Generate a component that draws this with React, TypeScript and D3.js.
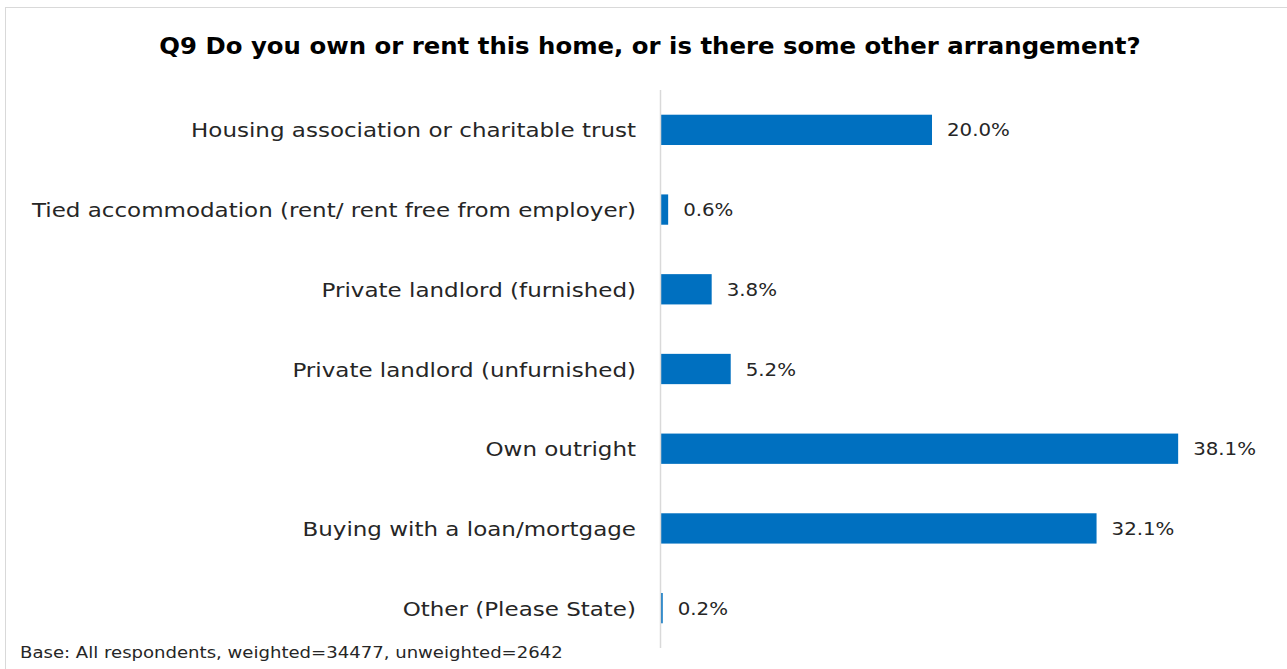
import React from "react";
import * as d3 from "d3";

const categories = [
  "Housing association or charitable trust",
  "Tied accommodation (rent/ rent free from employer)",
  "Private landlord (furnished)",
  "Private landlord (unfurnished)",
  "Own outright",
  "Buying with a loan/mortgage",
  "Other (Please State)",
];
const values = [20.0, 0.6, 3.8, 5.2, 38.1, 32.1, 0.2];
const title = "Q9 Do you own or rent this home, or is there some other arrangement?";
const baseNote = "Base: All respondents, weighted=34477, unweighted=2642";

const W = 1287;
const H = 669;
const FONT = "'DejaVu Sans', 'Liberation Sans', sans-serif";

export default function App() {
  const x = d3.scaleLinear().domain([0, 20]).range([660, 932]);
  const y = d3
    .scaleBand<string>()
    .domain(categories)
    .range([90, 648])
    .paddingInner(0.62)
    .paddingOuter(0.31);

  return (
    <svg
      width={W}
      height={H}
      style={{ position: "fixed", left: 0, top: 0, background: "#fff" }}
      fontFamily={FONT}
    >
      <rect x={5.5} y={7.5} width={W + 10} height={H + 10} fill="#fff" stroke="#d9d9d9" strokeWidth={1} />
      <text
        transform="translate(650,54) scale(1.06,1)"
        textAnchor="middle"
        fontSize={23}
        fontWeight="bold"
        fill="#000"
      >
        {title}
      </text>
      {categories.map((c, i) => {
        const yy = y(c)!;
        const bw = y.bandwidth();
        const cy = yy + bw / 2;
        return (
          <g key={c}>
            <rect x={x(0)} y={yy} width={x(values[i]) - x(0)} height={bw} fill="#0070C0" />
            <text
              transform={`translate(636,${cy + 7.5}) scale(1.15,1)`}
              textAnchor="end"
              fontSize={20}
              fill="#262626"
            >
              {c}
            </text>
            <text
              transform={`translate(${x(values[i]) + 15},${cy + 6.5}) scale(1.1,1)`}
              fontSize={18}
              fill="#262626"
            >
              {d3.format(".1f")(values[i]) + "%"}
            </text>
          </g>
        );
      })}
      <line x1={660.5} x2={660.5} y1={90} y2={648} stroke="#d9d9d9" strokeWidth={1.5} />
      <text transform="translate(20,658) scale(1.13,1)" fontSize={16} fill="#262626">
        {baseNote}
      </text>
    </svg>
  );
}
